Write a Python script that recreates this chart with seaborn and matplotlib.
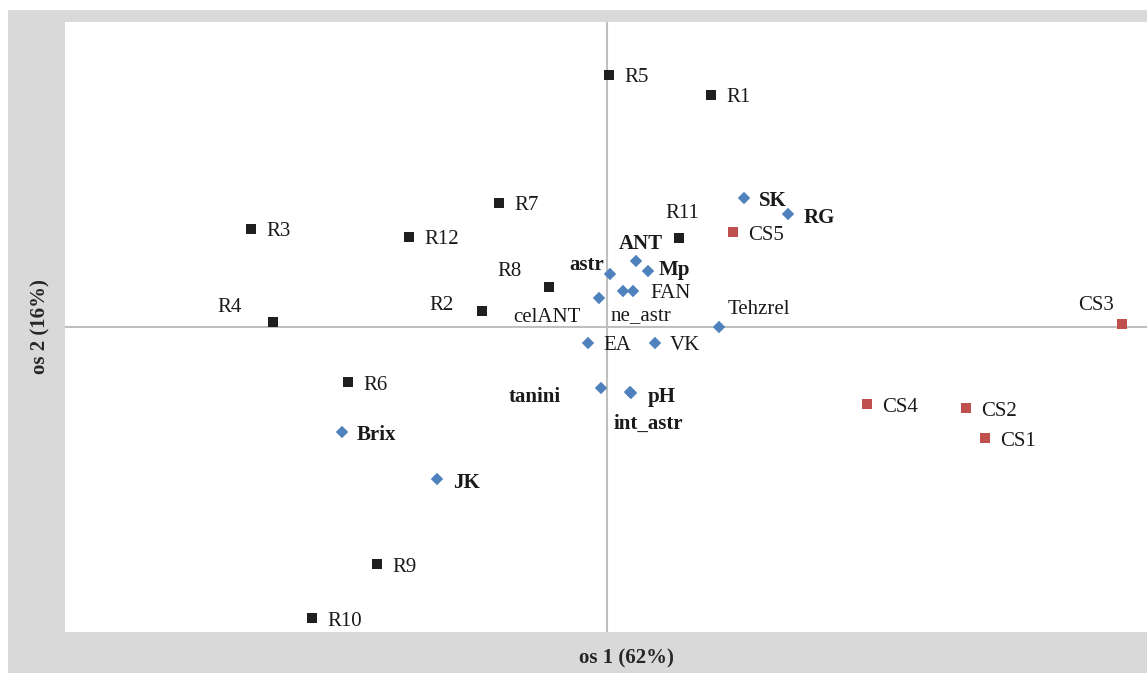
import pandas as pd
import matplotlib.pyplot as plt
import seaborn as sns
from matplotlib.patches import Rectangle

# vzorci (R, CS) in spremenljivke - koordinate odčitane s slike
r_names = ["R1", "R2", "R3", "R4", "R5", "R6", "R7", "R8", "R9", "R10", "R11", "R12"]
r_x = [1.04, -1.25, -3.56, -3.34, 0.02, -2.59, -1.08, -0.58, -2.30, -2.95, 0.72, -1.98]
r_y = [2.32, 0.16, 0.98, 0.05, 2.52, -0.55, 1.24, 0.40, -2.37, -2.91, 0.89, 0.90]

cs_names = ["CS1", "CS2", "CS3", "CS4", "CS5"]
cs_x = [3.78, 3.59, 5.15, 2.60, 1.26]
cs_y = [-1.11, -0.81, 0.03, -0.77, 0.95]

var_names = ["SK", "RG", "ANT", "Mp", "astr", "FAN", "ne_astr", "celANT", "Tehzrel",
             "EA", "VK", "tanini", "pH", "int_astr", "Brix", "JK"]
var_x = [1.37, 1.81, 0.29, 0.41, 0.03, 0.26, 0.16, -0.08, 1.12,
         -0.19, 0.48, -0.06, 0.24, 0.23, -2.65, -1.70]
var_y = [1.29, 1.13, 0.66, 0.56, 0.53, 0.36, 0.36, 0.29, 0.0,
         -0.16, -0.16, -0.61, -0.66, -0.65, -1.05, -1.52]
bold_vars = ["SK", "RG", "ANT", "Mp", "astr", "tanini", "pH", "int_astr", "Brix", "JK"]

df = pd.DataFrame({
    "name": r_names + cs_names + var_names,
    "x": r_x + cs_x + var_x,
    "y": r_y + cs_y + var_y,
    "group": ["R"] * len(r_names) + ["CS"] * len(cs_names) + ["var"] * len(var_names),
})

# odmiki oznak v pikslih (levi rob besedila)
label_off = {
    "R11": (-14, 27), "R8": (-52, 17), "R2": (-53, 8), "R4": (-56, 17),
    "CS3": (-44, 21), "ANT": (-17, 19), "Mp": (11, 3), "astr": (-41, 11),
    "FAN": (17, 0), "ne_astr": (-12, -23), "celANT": (-86, -17),
    "Tehzrel": (9, 20), "tanini": (-92, -7), "pH": (17, -2), "int_astr": (-16, -30),
    "RG": (16, -2), "JK": (16, -2), "CS4": (15, -2), "CS2": (15, -2),
}

sns.set_style("white")
plt.rcParams["font.family"] = ["Liberation Serif", "DejaVu Serif"]

fig = plt.figure(figsize=(11.47, 6.73), dpi=100)
fig.patches.append(Rectangle((8 / 1147, 0), 1, 663 / 673, transform=fig.transFigure,
                             facecolor="#d9d9d9", edgecolor="none", zorder=-10))
ax = fig.add_axes([65 / 1147, 41 / 673, 1082 / 1147, 610 / 673])
ax.set_facecolor("white")

ax.axhline(0, color="#bfbfbf", lw=1.5, zorder=1)
ax.axvline(0, color="#bfbfbf", lw=1.5, zorder=1)

sns.scatterplot(data=df, x="x", y="y", hue="group", style="group",
                palette={"R": "#1f1f1f", "CS": "#c0504d", "var": "#4f81bd"},
                markers={"R": "s", "CS": "s", "var": "D"},
                size="group", sizes={"R": 62, "CS": 62, "var": 40},
                edgecolor="none", legend=False, zorder=3, ax=ax)

for _, row in df.iterrows():
    dx, dy = label_off.get(row["name"], (15, -1))
    ax.annotate(row["name"], (row["x"], row["y"]), xytext=(dx, dy - 2),
                textcoords="offset pixels", ha="left", va="center",
                fontsize=15, color="#1a1a1a",
                fontweight="bold" if row["name"] in bold_vars else "normal")

ax.set_xlim(-5.42, 5.40)
ax.set_ylim(-3.05, 3.05)
ax.set_xticks([])
ax.set_yticks([])
ax.set_xlabel("")
ax.set_ylabel("")
for s in ax.spines.values():
    s.set_visible(False)

fig.text(626 / 1147, 1 - 658 / 673, "os 1 (62%)", ha="center", va="center",
         fontsize=15, fontweight="bold")
fig.text(40 / 1147, 1 - 327 / 673, "os 2 (16%)", ha="center", va="center",
         rotation=90, fontsize=15, fontweight="bold")

fig.savefig("out.png", dpi=100, facecolor="white")
